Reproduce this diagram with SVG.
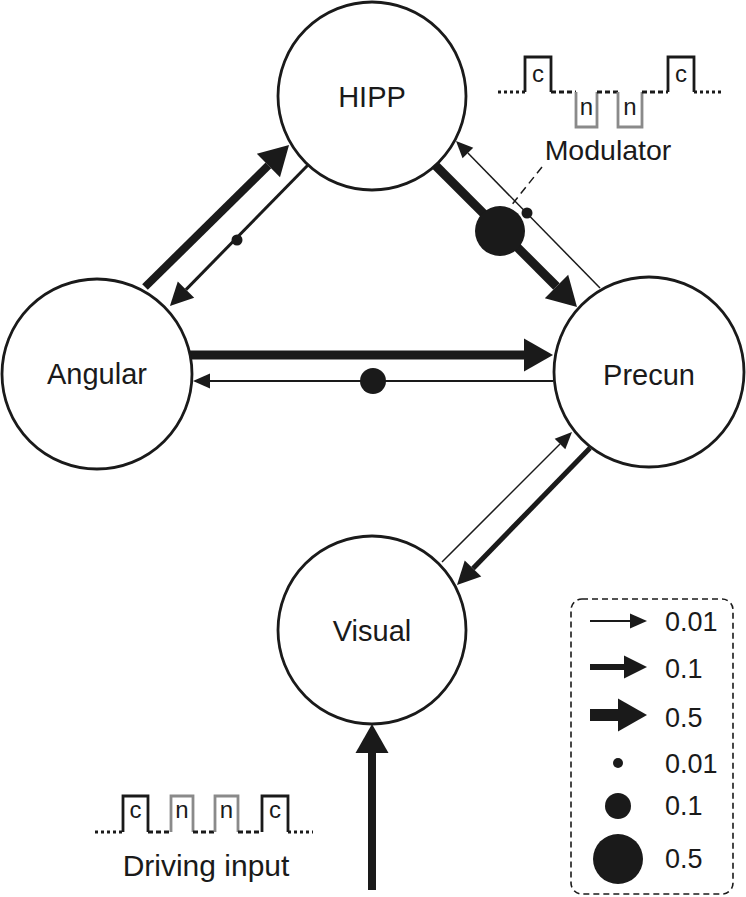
<svg xmlns="http://www.w3.org/2000/svg" width="746" height="897" viewBox="0 0 746 897">
<style>
.node{fill:#fff;stroke:#1a1a1a;stroke-width:2.8}
.lbl{font-family:"Liberation Sans",Arial,sans-serif;font-size:29px;fill:#1a1a1a;text-anchor:middle}
.small{font-family:"Liberation Sans",Arial,sans-serif;font-size:24px;fill:#1a1a1a;text-anchor:middle}
.leg{font-family:"Liberation Sans",Arial,sans-serif;font-size:27px;fill:#1a1a1a}
.e{stroke:#1a1a1a;fill:none;stroke-linecap:butt}
.dot{fill:#1a1a1a}
.wb{stroke:#1a1a1a;stroke-width:2.8;fill:none}
.wg{stroke:#8a8a8a;stroke-width:2.8;fill:none}
.dots{stroke:#1a1a1a;stroke-width:2.8;stroke-dasharray:3 3;fill:none}
.dash{stroke:#1a1a1a;stroke-width:2.8;stroke-dasharray:5 3;fill:none}
</style>
<defs>
<marker id="aThin" markerUnits="userSpaceOnUse" viewBox="0 -7.5 17 15" refX="0" refY="0" markerWidth="17" markerHeight="15" orient="auto" overflow="visible"><path d="M0,-7.5 L17,0 L0,7.5 Z" fill="#1a1a1a"/></marker>
<marker id="aMed" markerUnits="userSpaceOnUse" viewBox="0 -11.5 23 23" refX="0" refY="0" markerWidth="23" markerHeight="23" orient="auto" overflow="visible"><path d="M0,-11.5 L23,0 L0,11.5 Z" fill="#1a1a1a"/></marker>
<marker id="aThick" markerUnits="userSpaceOnUse" viewBox="0 -16.5 29 33" refX="0" refY="0" markerWidth="29" markerHeight="33" orient="auto" overflow="visible"><path d="M0,-16.5 L29,0 L0,16.5 Z" fill="#1a1a1a"/></marker>
</defs>

<g id="connectors">
  <line class="e" x1="145" y1="287" x2="268.4" y2="165.4" stroke-width="8" marker-end="url(#aThick)"/>
  <line class="e" x1="308" y1="165" x2="186" y2="289.6" stroke-width="3" marker-end="url(#aMed)"/>
  <circle class="dot" cx="237" cy="240" r="5.5"/>
  <line class="e" x1="433" y1="163" x2="556.5" y2="286.5" stroke-width="9" marker-end="url(#aThick)"/>
  <line class="e" x1="600" y1="288" x2="467.9" y2="153.1" stroke-width="1.5" marker-end="url(#aThin)"/>
  <circle class="dot" cx="527" cy="213" r="5.5"/>
  <line x1="542" y1="167" x2="510" y2="207" stroke="#1a1a1a" stroke-width="1.5" stroke-dasharray="8 5"/>
  <circle class="dot" cx="500" cy="231" r="25"/>
  <line class="e" x1="190" y1="355" x2="524" y2="355" stroke-width="9" marker-end="url(#aThick)"/>
  <line class="e" x1="553" y1="381" x2="210" y2="381" stroke-width="1.8" marker-end="url(#aThin)"/>
  <circle class="dot" cx="373" cy="381" r="13"/>
  <line class="e" x1="590" y1="448" x2="473" y2="568.5" stroke-width="5" marker-end="url(#aMed)"/>
  <line class="e" x1="442" y1="562" x2="560" y2="444" stroke-width="1.5" marker-end="url(#aThin)"/>
  <line class="e" x1="372" y1="890" x2="372" y2="753" stroke-width="8" marker-end="url(#aThick)"/>
</g>

<g id="HIPP">
  <circle class="node" cx="372" cy="96" r="94"/>
  <text class="lbl" x="372" y="107">HIPP</text>
</g>
<g id="Angular">
  <circle class="node" cx="97" cy="374" r="95"/>
  <text class="lbl" x="97" y="384">Angular</text>
</g>
<g id="Precun">
  <circle class="node" cx="649" cy="372" r="95"/>
  <text class="lbl" x="649" y="385">Precun</text>
</g>
<g id="Visual">
  <circle class="node" cx="372" cy="630" r="94"/>
  <text class="lbl" x="372" y="641">Visual</text>
</g>

<g id="Modulator">
  <path class="dots" d="M498,92 H525"/>
  <path class="wb" d="M525,92 V57 H551 V92"/>
  <path class="dash" d="M551,92 H576"/>
  <path class="wg" d="M576,92 V127 H597 V92"/>
  <path class="dash" d="M597,92 H618"/>
  <path class="wg" d="M618,92 V127 H642 V92"/>
  <path class="dash" d="M642,92 H668"/>
  <path class="wb" d="M668,92 V57 H694 V92"/>
  <path class="dots" d="M694,92 H723"/>
  <text class="small" x="538" y="82">c</text>
  <text class="small" x="586.5" y="115">n</text>
  <text class="small" x="630" y="115">n</text>
  <text class="small" x="681" y="82">c</text>
  <text class="lbl" x="608" y="160" style="font-size:28.5px">Modulator</text>
</g>

<g id="DrivingInput">
  <path class="dots" d="M95,832 H123"/>
  <path class="wb" d="M123,832 V796 H148 V832"/>
  <path class="dash" d="M148,832 H171"/>
  <path class="wg" d="M171,832 V796 H193 V832"/>
  <path class="dash" d="M193,832 H215"/>
  <path class="wg" d="M215,832 V796 H238 V832"/>
  <path class="dash" d="M238,832 H262"/>
  <path class="wb" d="M262,832 V796 H288 V832"/>
  <path class="dots" d="M288,832 H313"/>
  <text class="small" x="135.5" y="818">c</text>
  <text class="small" x="182" y="818">n</text>
  <text class="small" x="226.5" y="818">n</text>
  <text class="small" x="275" y="818">c</text>
  <text class="lbl" x="206" y="876" style="font-size:30px">Driving input</text>
</g>

<g id="Legend">
  <rect x="571" y="599" width="162" height="295" rx="11" ry="11" fill="none" stroke="#1a1a1a" stroke-width="1.6" stroke-dasharray="6 4"/>
  <line class="e" x1="590" y1="621" x2="630" y2="621" stroke-width="1.8" marker-end="url(#aThin)"/>
  <text class="leg" x="665" y="631">0.01</text>
  <line class="e" x1="590" y1="667" x2="624" y2="667" stroke-width="6" marker-end="url(#aMed)"/>
  <text class="leg" x="665" y="678">0.1</text>
  <line class="e" x1="590" y1="715" x2="618" y2="715" stroke-width="12" marker-end="url(#aThick)"/>
  <text class="leg" x="665" y="727">0.5</text>
  <circle class="dot" cx="618" cy="763" r="5"/>
  <text class="leg" x="665" y="773">0.01</text>
  <circle class="dot" cx="618" cy="806" r="13"/>
  <text class="leg" x="665" y="815">0.1</text>
  <circle class="dot" cx="618" cy="859" r="25"/>
  <text class="leg" x="665" y="868">0.5</text>
</g>
</svg>
